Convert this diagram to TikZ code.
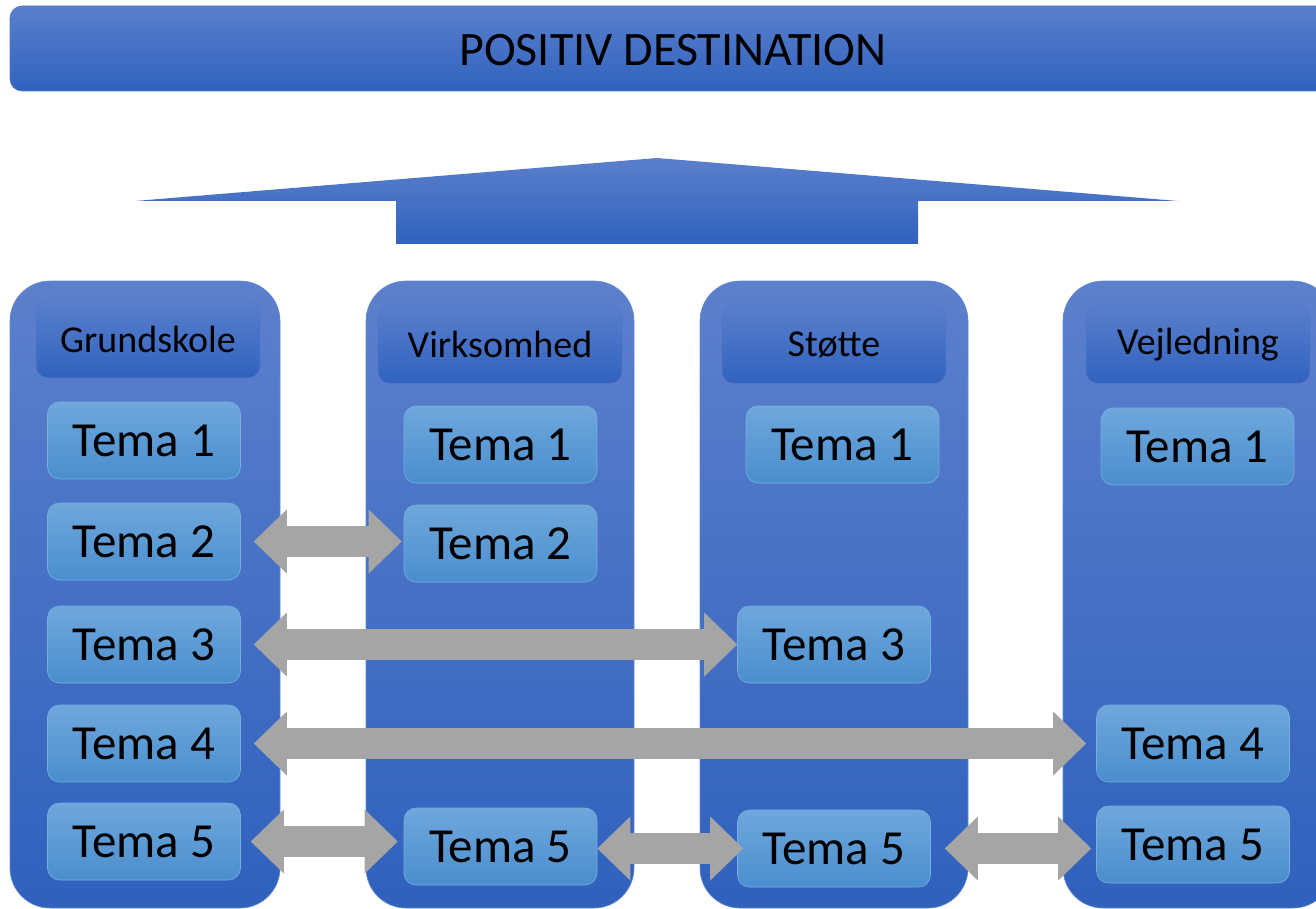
\documentclass[tikz,border=0pt]{standalone}
\usepackage{fontspec}
\setmainfont{Carlito}
\usetikzlibrary{arrows.meta}

\definecolor{colTop}{HTML}{5D80CC}
\definecolor{colBot}{HTML}{2F61BD}
\definecolor{colEdge}{HTML}{6487D0}
\definecolor{hdrTop}{HTML}{5A7FCC}
\definecolor{hdrBot}{HTML}{3062BE}
\definecolor{hdrEdge}{HTML}{4F78C9}
\definecolor{temaTop}{HTML}{6FA7DC}
\definecolor{temaBot}{HTML}{4A8ECE}
\definecolor{temaEdge}{HTML}{78AEE0}
\definecolor{linkGray}{HTML}{A5A5A5}

\begin{document}
\begin{tikzpicture}[x=1pt,y=-1pt]
		\tikzstyle{every node}+=[inner sep=0pt]
		\tikzstyle{column}=[rounded corners=40pt, top color=colTop, bottom color=colBot, draw=colEdge, line width=0.6pt, minimum height=627pt]
		\tikzstyle{header}=[rounded corners=12pt, top color=hdrTop, bottom color=hdrBot, draw=hdrEdge, line width=0.6pt, minimum height=78pt, font=\fontsize{38}{42}\selectfont]
		\tikzstyle{tema}=[rounded corners=12pt, top color=temaTop, bottom color=temaBot, draw=temaEdge, line width=0.6pt, minimum width=193pt, minimum height=77pt, font=\fontsize{49}{53}\selectfont]
		\tikzstyle{link}=[draw=linkGray, line width=31pt, {Triangle[width=64pt,length=33pt,line width=0pt]}-{Triangle[width=64pt,length=33pt,line width=0pt]}]
		\useasboundingbox (0,0) rectangle (1316,909);
		\clip (0,0) rectangle (1316,909);
		% banner and big arrow
		\node [rounded corners=12pt, top color=hdrTop, bottom color=hdrBot, draw=hdrEdge, line width=0.6pt, minimum width=1320pt, minimum height=85pt] (banner) at (670,48.5) {};
		\node [font=\fontsize{48}{52}\selectfont] (title) at (673,50) {POSITIV DESTINATION};
		\shade [top color=hdrTop, bottom color=hdrBot] (135,201) -- (657,158) -- (1178,201) -- (918,201) -- (918,244) -- (396,244) -- (396,201) -- cycle;
		% columns
		\node [column, minimum width=270pt] (cg) at (145,594.5) {};
		\node [column, minimum width=268pt] (cv) at (500,594.5) {};
		\node [column, minimum width=268pt] (cs) at (834,594.5) {};
		\node [column, minimum width=270pt] (cj) at (1198,594.5) {};
		% headers
		\node [header, minimum width=224pt] (hg) at (148,339) {Grundskole};
		\node [header, minimum width=244pt] (hv) at (500,344.5) {Virksomhed};
		\node [header, minimum width=224pt] (hs) at (834,344.5) {Støtte};
		\node [header, minimum width=224pt] (hj) at (1198,344.5) {Vejledning};
		% tema boxes
		\node [tema] (g1) at (144,440.5) {Tema 1};
		\node [tema] (g2) at (144,541.5) {Tema 2};
		\node [tema] (g3) at (144,644.5) {Tema 3};
		\node [tema] (g4) at (144,743.5) {Tema 4};
		\node [tema] (g5) at (144,841.5) {Tema 5};
		\node [tema] (v1) at (500.5,444.5) {Tema 1};
		\node [tema] (v2) at (500.5,543.5) {Tema 2};
		\node [tema] (v5) at (500.5,846.5) {Tema 5};
		\node [tema] (s1) at (842.5,444.5) {Tema 1};
		\node [tema] (s3) at (834,644.5) {Tema 3};
		\node [tema] (s5) at (834,848.5) {Tema 5};
		\node [tema] (j1) at (1197.5,446.5) {Tema 1};
		\node [tema] (j4) at (1193,743.5) {Tema 4};
		\node [tema] (j5) at (1193,844.5) {Tema 5};
		% links
		\draw [link] ([xshift=13pt]g2.east) -- ([xshift=-2pt]g2.east -| v2.west);
		\draw [link] ([xshift=13pt]g3.east) -- (g3.east -| s3.west);
		\draw [link] ([xshift=13pt]g4.east) -- ([xshift=-10pt]g4.east -| j4.west);
		\draw [link] ([xshift=10pt]g5.east) -- ([xshift=-6pt]g5.east -| v5.west);
		\draw [link] (v5.east |- s5.west) -- ([xshift=6pt]s5.west);
		\draw [link] ([xshift=14pt]s5.east) -- ([xshift=-5pt]s5.east -| j5.west);
\end{tikzpicture}
\end{document}
